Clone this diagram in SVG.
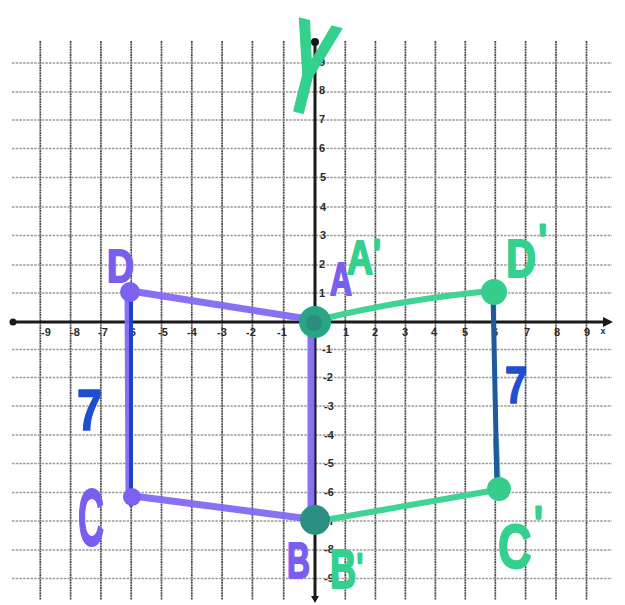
<svg xmlns="http://www.w3.org/2000/svg" width="625" height="605" viewBox="0 0 625 605">
<style>
.vg{stroke:#4a4a4a;stroke-width:1.7;stroke-dasharray:2 0.6}
.hg{stroke:#9a9a9a;stroke-width:1.4;stroke-dasharray:2.5 1.2}
.ax{stroke:#1a1a1a;stroke-width:3;fill:none}
.tk{font-family:"Liberation Sans",Arial,sans-serif;font-weight:bold;font-size:11px;fill:#2a2a2a;text-anchor:middle}
.mk{font-family:"Liberation Sans",Arial,sans-serif;font-weight:bold;stroke-linejoin:round}
.pu{fill:#7a5ef0;stroke:#7a5ef0;stroke-width:2}
.gr{fill:#33d08e;stroke:#33d08e;stroke-width:2}
.bl{fill:#1d4fd0;stroke:#1d4fd0;stroke-width:1.5}
.pl{stroke:#8468f2;stroke-width:7;stroke-linecap:round;fill:none;opacity:0.95}
.gl{stroke:#3fd494;stroke-width:6;stroke-linecap:round;fill:none}
.pr{stroke-width:3}
</style>
<rect width="625" height="605" fill="#ffffff"/>
<g id="grid">
<g class="vg">
<line x1="40.3" y1="41" x2="40.3" y2="600"/><line x1="70.6" y1="41" x2="70.6" y2="600"/><line x1="100.9" y1="41" x2="100.9" y2="600"/><line x1="131.2" y1="41" x2="131.2" y2="600"/><line x1="161.5" y1="41" x2="161.5" y2="600"/><line x1="191.8" y1="41" x2="191.8" y2="600"/><line x1="222.1" y1="41" x2="222.1" y2="600"/><line x1="252.4" y1="41" x2="252.4" y2="600"/><line x1="283.7" y1="41" x2="283.7" y2="600"/>
<line x1="345.3" y1="41" x2="345.3" y2="600"/><line x1="375.4" y1="41" x2="375.4" y2="600"/><line x1="405.4" y1="41" x2="405.4" y2="600"/><line x1="435.4" y1="41" x2="435.4" y2="600"/><line x1="465.3" y1="41" x2="465.3" y2="600"/><line x1="495.3" y1="41" x2="495.3" y2="600"/><line x1="525.6" y1="41" x2="525.6" y2="600"/><line x1="556" y1="41" x2="556" y2="600"/><line x1="586.5" y1="41" x2="586.5" y2="600"/>
</g>
<g class="hg">
<line x1="12" y1="63" x2="612" y2="63"/><line x1="12" y1="92" x2="612" y2="92"/><line x1="12" y1="120" x2="612" y2="120"/><line x1="12" y1="148.5" x2="612" y2="148.5"/><line x1="12" y1="177.5" x2="612" y2="177.5"/><line x1="12" y1="207" x2="612" y2="207"/><line x1="12" y1="235.5" x2="612" y2="235.5"/><line x1="12" y1="265" x2="612" y2="265"/><line x1="12" y1="293" x2="612" y2="293"/>
<line x1="12" y1="349.5" x2="612" y2="349.5"/><line x1="12" y1="377.5" x2="612" y2="377.5"/><line x1="12" y1="406" x2="612" y2="406"/><line x1="12" y1="435" x2="612" y2="435"/><line x1="12" y1="463.5" x2="612" y2="463.5"/><line x1="12" y1="492.5" x2="612" y2="492.5"/><line x1="12" y1="521" x2="612" y2="521"/><line x1="12" y1="550" x2="612" y2="550"/><line x1="12" y1="578.5" x2="612" y2="578.5"/>
</g>
</g>
<g id="axes">
<line class="ax" x1="13" y1="322" x2="610" y2="322"/>
<circle cx="13" cy="322" r="3.5" fill="#1a1a1a"/>
<path d="M603,317 L613,322 L603,327 Z" fill="#1a1a1a"/>
<line class="ax" x1="315" y1="42" x2="315" y2="600"/>
<circle cx="315" cy="42" r="4" fill="#1a1a1a"/>
<path d="M311,596 L315,603 L319,596 Z" fill="#1a1a1a"/>
<g class="tk">
<text x="46" y="336">-9</text><text x="75" y="336">-8</text><text x="103" y="336">-7</text><text x="131" y="336">-6</text><text x="163" y="336">-5</text><text x="192" y="336">-4</text><text x="222" y="336">-3</text><text x="251" y="336">-2</text><text x="282" y="336">-1</text>
<text x="346" y="336">1</text><text x="375" y="336">2</text><text x="405" y="336">3</text><text x="434" y="336">4</text><text x="465" y="336">5</text><text x="495" y="336">6</text><text x="527" y="336">7</text><text x="557" y="336">8</text><text x="587" y="336">9</text><text x="603" y="334" font-size="9">x</text>
<text x="323" y="51">y</text><text x="322" y="66">9</text><text x="322" y="94">8</text><text x="322" y="123">7</text><text x="322" y="152">6</text><text x="323" y="181">5</text><text x="323" y="211">4</text><text x="323" y="239">3</text><text x="322" y="268">2</text><text x="322" y="297">1</text>
<text x="327" y="353">-1</text><text x="328" y="381">-2</text><text x="329" y="410">-3</text><text x="329" y="439">-4</text><text x="329" y="467">-5</text><text x="329" y="496">-6</text><text x="330" y="525">-7</text><text x="329" y="553">-8</text><text x="329" y="582">-9</text>
</g>
</g>
<g id="connectors">
<line class="pl" x1="131" y1="291" x2="308" y2="319"/>
<line class="pl" x1="133" y1="496" x2="310" y2="519"/>
<line class="pl" x1="128" y1="292" x2="129" y2="500"/>
<line stroke="#1b45c8" stroke-width="4" stroke-linecap="round" x1="131" y1="290" x2="131" y2="505"/>
<line class="pl" x1="311" y1="325" x2="311" y2="516" stroke-width="6"/>
<path class="gl" d="M322,319 Q400,300 490,291"/>
<path class="gl" d="M325,520 Q410,505 496,490"/>
<line class="gl" x1="496" y1="440" x2="498" y2="488"/>
<line stroke="#1e5b9c" stroke-width="5" stroke-linecap="round" x1="493" y1="293" x2="497" y2="487"/>
</g>
<g id="node-D"><circle cx="130" cy="292" r="10" fill="#7d61f0"/><text class="mk pu" x="107" y="282" font-size="46" textLength="27" lengthAdjust="spacingAndGlyphs">D</text></g>
<g id="node-C"><circle cx="132" cy="497" r="9" fill="#7d61f0"/><text class="mk pu" x="78" y="545" font-size="80" textLength="26" lengthAdjust="spacingAndGlyphs">C</text></g>
<g id="node-A"><circle cx="315" cy="322" r="16" fill="#27a585"/><circle cx="314" cy="323" r="8" fill="#2b8c7f"/><text class="mk pu" x="330" y="295" font-size="46" textLength="22" lengthAdjust="spacingAndGlyphs">A</text></g>
<g id="node-B"><circle cx="315" cy="520" r="15" fill="#2c8f84"/><text class="mk pu" x="287" y="578" font-size="50" textLength="23" lengthAdjust="spacingAndGlyphs">B</text></g>
<g id="node-A2"><text class="mk gr" transform="translate(347,274) scale(0.75,1)" font-size="48">A<tspan class="pr" dx="1" dy="-8" font-size="36">'</tspan></text></g>
<g id="node-D2"><circle cx="494" cy="292" r="13" fill="#36cc8c"/><text class="mk gr" transform="translate(506,277) scale(0.77,1)" font-size="54">D<tspan class="pr" dx="4" dy="-24" font-size="40">'</tspan></text></g>
<g id="node-C2"><circle cx="499" cy="489" r="12" fill="#36cc8c"/><text class="mk gr" transform="translate(498,568) scale(0.75,1)" font-size="62">C<tspan class="pr" dx="4" dy="-30" font-size="44">'</tspan></text></g>
<g id="node-B2"><text class="mk gr" transform="translate(330,588) scale(0.65,1)" font-size="56">B<tspan class="pr" dx="1" dy="-10" font-size="36">'</tspan></text></g>
<g id="label-7-left"><text class="mk bl" x="77" y="430" font-size="58" textLength="25" lengthAdjust="spacingAndGlyphs">7</text></g>
<g id="label-7-right"><text class="mk bl" x="505" y="403" font-size="52" textLength="22" lengthAdjust="spacingAndGlyphs">7</text></g>
<g id="label-Y"><text class="mk gr" x="288" y="113" font-size="132" textLength="46" lengthAdjust="spacingAndGlyphs" transform="rotate(14 310 62)">Y</text></g>
</svg>
